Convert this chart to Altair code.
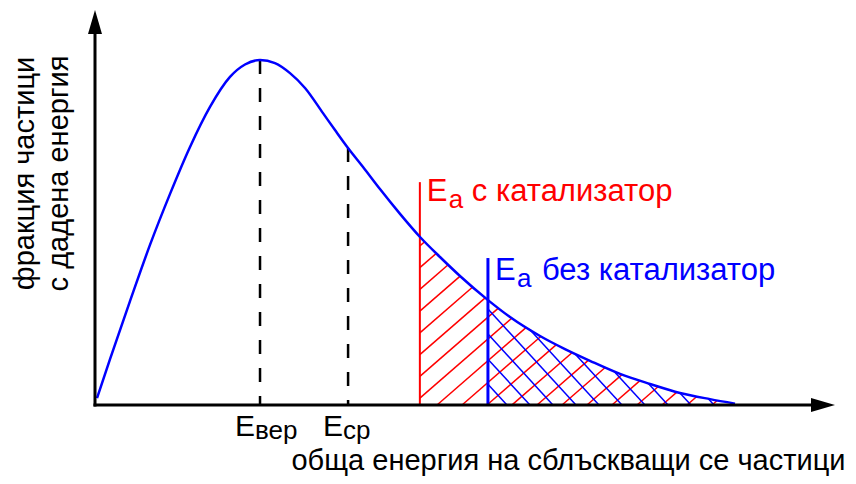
import altair as alt
import numpy as np
import pandas as pd

# ---- data (energy in arbitrary units, fraction normalised to peak = 1)
energy = [0.027, 0.203, 0.473, 0.743, 1.014, 1.284, 1.554, 1.824, 2.027, 2.230,
          2.432, 2.635, 2.838, 3.081, 3.243, 3.419, 3.622, 3.851, 4.122, 4.392,
          4.662, 4.932, 5.311, 5.608, 6.014, 6.351, 6.689, 7.095, 7.500, 7.905,
          8.311, 8.649]
fraction = [0.020, 0.133, 0.301, 0.464, 0.612, 0.748, 0.864, 0.951, 0.987, 1.000,
            0.991, 0.962, 0.919, 0.846, 0.797, 0.745, 0.690, 0.626, 0.554, 0.487,
            0.429, 0.374, 0.304, 0.255, 0.200, 0.162, 0.128, 0.090, 0.061, 0.035,
            0.017, 0.004]

e_markers = [2.23, 3.42]            # Eвер, Eср
e_marker_subs = ["вер", "ср"]
ea_values = [4.39, 5.31]           # Ea с катализатор, Ea без катализатор
ea_tops = [0.646, 0.426]
ea_label_y = [0.592, 0.362]
ea_texts = ["с катализатор", "без катализатор"]
ea_colors = ["#ff0000", "#0000ff"]
ea_widths = [2, 3]

x_title = "обща енергия на сблъскващи се частици"
y_title = ["фракция частици", "с дадена енергия"]

X_MAX = 10.0
Y_MAX = 1.145
W, H = 740, 395
FONT = "Liberation Sans"

xs = alt.Scale(domain=[0, X_MAX], nice=False, zero=False)
ys = alt.Scale(domain=[0, Y_MAX], nice=False, zero=False)

xaxis = alt.Axis(title=x_title, domain=False, ticks=False, labels=False, grid=False,
                 titleFont=FONT, titleFontSize=29, titleFontWeight="normal", titleColor="black",
                 titleAlign="right", titleAnchor="end", titleBaseline="alphabetic",
                 titleX=750, titleY=64)
yaxis = alt.Axis(title=y_title, domain=False, ticks=False, labels=False, grid=False,
                 titleFont=FONT, titleFontSize=29, titleFontWeight="normal", titleColor="black",
                 titleAngle=270, titleAlign="center", titleBaseline="alphabetic",
                 titleX=-62, titleY=163, titleLineHeight=34)


def X(f):
    return alt.X(f, type="quantitative", scale=xs, axis=xaxis)


def Y(f):
    return alt.Y(f, type="quantitative", scale=ys, axis=yaxis)


# ---- hatching, derived from the curve
sx = W / X_MAX
sy = H / Y_MAX
e_arr = np.array(energy)
f_arr = np.array(fraction)


def f_px(xpx):
    return np.interp(xpx / sx, e_arr, f_arr, right=0.0) * sy


def hatch(x_start, slope, spacing, phase, color):
    x0 = x_start * sx
    x_end = e_arr[-1] * sx
    xx = np.linspace(x0, x_end, 4000)
    fx = f_px(xx)
    rows = []
    c = phase - spacing * 40
    while c < x_end + spacing * 40:
        yl = slope * (xx - c)
        inside = (yl >= 0) & (yl <= fx)
        if inside.sum() > 2:
            xi = xx[inside]
            a, b = xi.min(), xi.max()
            rows.append({"x": a / sx, "y": slope * (a - c) / sy,
                         "x2": b / sx, "y2": slope * (b - c) / sy, "c": color})
        c += spacing
    return rows


hatch_rows = hatch(ea_values[0], 0.87, 25, 342, ea_colors[0]) + \
             hatch(ea_values[1], -1.09, 23, 412, ea_colors[1])
hatch_df = pd.DataFrame(hatch_rows)

curve_df = pd.DataFrame({"energy": energy, "fraction": fraction})
dash_df = pd.DataFrame({"x": e_markers,
                        "y": np.interp(e_markers, energy, fraction),
                        "y0": [0, 0], "sub": e_marker_subs})
ea_df = pd.DataFrame({"x": ea_values, "top": ea_tops, "y0": [0, 0], "c": ea_colors,
                      "w": ea_widths, "ly": ea_label_y, "t": ea_texts})
axes_df = pd.DataFrame({"x": [0, 0], "x2": [X_MAX - 0.30, 0], "y": [0, 0],
                        "y2": [0, Y_MAX - 24 / sy]})
arrow_df = pd.DataFrame({"x": [X_MAX, 0], "y": [0, Y_MAX],
                         "shape": ["M0,0L-2,-0.583L-2,0.583Z", "M0,0L0.583,2L-0.583,2Z"]})

hatch_layer = alt.Chart(hatch_df).mark_rule(strokeWidth=1.5).encode(
    x=X("x"), y=Y("y"), x2="x2", y2="y2", color=alt.Color("c:N", scale=None))

dash_layer = alt.Chart(dash_df).mark_rule(strokeWidth=2.5, color="black", strokeDash=[14, 14]).encode(
    x=X("x"), y=Y("y"), y2="y0")

ea_layer = alt.Chart(ea_df).mark_rule().encode(
    x=X("x"), y=Y("top"), y2="y0", color=alt.Color("c:N", scale=None),
    strokeWidth=alt.StrokeWidth("w:Q", scale=None))

curve_layer = alt.Chart(curve_df).mark_line(color="#0000ff", strokeWidth=2.5,
                                            interpolate="monotone").encode(
    x=X("energy"), y=Y("fraction"))

axes_layer = alt.Chart(axes_df).mark_rule(color="black", strokeWidth=3, strokeCap="square").encode(
    x=X("x"), x2="x2", y=Y("y"), y2="y2")

arrow_layer = alt.Chart(arrow_df).mark_point(filled=True, color="black", opacity=1, size=576,
                                             strokeWidth=0).encode(
    x=X("x"), y=Y("y"), shape=alt.Shape("shape:N", scale=None))

e_big = alt.Chart(dash_df).mark_text(font=FONT, fontSize=30, align="right", baseline="alphabetic",
                                     dx=-5, dy=31, color="black").encode(
    x=X("x"), y=Y("y0"), text=alt.value("E"))
e_sub = alt.Chart(dash_df).mark_text(font=FONT, fontSize=26, align="left", baseline="alphabetic",
                                     dx=-5, dy=34, color="black").encode(
    x=X("x"), y=Y("y0"), text="sub:N")

ea_big = alt.Chart(ea_df).mark_text(font=FONT, fontSize=31, align="left", baseline="alphabetic",
                                    dx=7).encode(
    x=X("x"), y=Y("ly"), text=alt.value("E"), color=alt.Color("c:N", scale=None))
ea_sub = alt.Chart(ea_df).mark_text(font=FONT, fontSize=26, align="left", baseline="alphabetic",
                                    dx=29, dy=7).encode(
    x=X("x"), y=Y("ly"), text=alt.value("a"), color=alt.Color("c:N", scale=None))
ea_rest_cat = alt.Chart(ea_df.iloc[[0]]).mark_text(font=FONT, fontSize=31, align="left",
                                                   baseline="alphabetic", dx=52).encode(
    x=X("x"), y=Y("ly"), text="t:N", color=alt.Color("c:N", scale=None))
ea_rest_nocat = alt.Chart(ea_df.iloc[[1]]).mark_text(font=FONT, fontSize=31, align="left",
                                                     baseline="alphabetic", dx=54).encode(
    x=X("x"), y=Y("ly"), text="t:N", color=alt.Color("c:N", scale=None))

chart = alt.layer(
    hatch_layer, dash_layer, ea_layer, curve_layer, axes_layer, arrow_layer,
    e_big, e_sub, ea_big, ea_sub, ea_rest_cat, ea_rest_nocat
).properties(
    width=W, height=H, background="white",
    autosize=alt.AutoSizeParams(type="none"),
    padding={"left": 87, "top": 2, "right": 13, "bottom": 71}
).configure_view(stroke=None)

chart.save("out.html", embed_options={"renderer": "svg", "actions": False})
